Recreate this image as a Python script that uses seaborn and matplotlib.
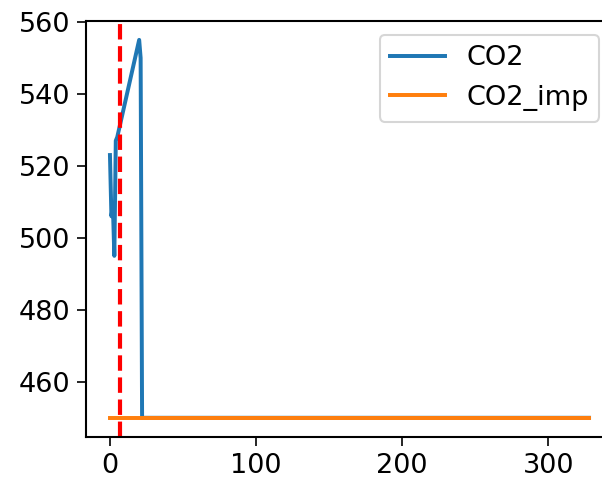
import pandas as pd
import matplotlib
matplotlib.use('Agg')
import matplotlib.pyplot as plt
import seaborn as sns

# CO2 readings by index (tail is flat at 450 up to the end)
co2_x = [0, 1, 2, 3, 4, 5, 20, 21, 22, 328]
co2_y = [523, 506, 509, 495, 527, 528, 555, 550, 450, 450]

# imputed CO2 series
imp_x = [0, 328]
imp_y = [450, 450]

# split marker
cut_x = 7

plt.rcParams['font.size'] = 13
plt.rcParams['xtick.major.size'] = 4.2
plt.rcParams['ytick.major.size'] = 4.2
plt.rcParams['axes.linewidth'] = 1.0

df_co2 = pd.DataFrame({'x': co2_x, 'y': co2_y})
df_imp = pd.DataFrame({'x': imp_x, 'y': imp_y})

fig = plt.figure(figsize=(603 / 150, 484 / 150), dpi=150)
# axes run past the right edge, as in the reference crop
ax = fig.add_axes([86 / 603, 47.3 / 484, 527 / 603, 415.7 / 484])

sns.lineplot(data=df_co2, x='x', y='y', ax=ax, label='CO2', color='#1f77b4', linewidth=1.9, sort=False)
sns.lineplot(data=df_imp, x='x', y='y', ax=ax, label='CO2_imp', color='#ff7f0e', linewidth=1.9, sort=False)
ax.axvline(cut_x, color='r', linestyle='--', linewidth=2)

ax.set_xlabel('')
ax.set_ylabel('')
ax.set_xticks([0, 100, 200, 300])
ax.set_yticks([460, 480, 500, 520, 540, 560])
ax.legend(loc='upper right')

fig.savefig('out.png', dpi=150)
